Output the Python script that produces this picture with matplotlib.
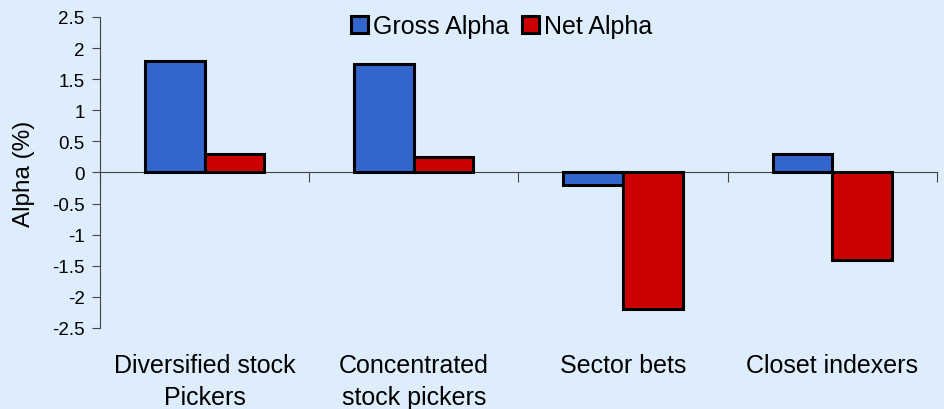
import matplotlib.pyplot as plt
import matplotlib.transforms as mtransforms
import numpy as np

plt.rcParams['font.family'] = ['Liberation Sans', 'DejaVu Sans']

# Daten
categories = ["Diversified stock\nPickers", "Concentrated\nstock pickers",
              "Sector bets", "Closet indexers"]
gross_alpha = [1.8, 1.74, -0.2, 0.3]
net_alpha = [0.3, 0.25, -2.2, -1.4]
y_ticks = [2.5, 2, 1.5, 1, 0.5, 0, -0.5, -1, -1.5, -2, -2.5]
y_tick_labels = ["2.5", "2", "1.5", "1", "0.5", "0", "-0.5", "-1", "-1.5", "-2", "-2.5"]

bg = '#DDEDFC'
blue = '#3366CC'
red = '#CC0000'

fig = plt.figure(figsize=(9.45, 4.1), dpi=100, facecolor=bg)
ax = fig.add_axes([0.1058, 0.1976, 0.8857, 0.7585], facecolor=bg)

x = np.arange(len(categories)) + 0.5
w = 0.285
ax.bar(x - w / 2, gross_alpha, w, color=blue, edgecolor='black', linewidth=2.2,
       label="Gross Alpha", zorder=3)
ax.bar(x + w / 2, net_alpha, w, color=red, edgecolor='black', linewidth=2.2,
       label="Net Alpha", zorder=3)

ax.set_xlim(0, len(categories))
ax.set_ylim(-2.5, 2.5)
ax.set_yticks(y_ticks)
ax.set_yticklabels(y_tick_labels, fontsize=13.5)
ax.set_ylabel("Alpha (%)", fontsize=17.5)
ax.yaxis.set_label_coords(-0.078, 0.5)

for s in ['top', 'right']:
    ax.spines[s].set_visible(False)
ax.spines['bottom'].set_position(('data', 0))
ax.spines['left'].set_color('#444444')
ax.spines['bottom'].set_color('#444444')
ax.tick_params(axis='y', direction='out', length=6, color='#444444', pad=5)
ax.set_xticks(np.arange(len(categories) + 1))
ax.set_xticklabels([])
ax.tick_params(axis='x', direction='out', length=7, color='#444444')

trans = mtransforms.blended_transform_factory(ax.transData, ax.transAxes)
for xi, lab in zip(x, categories):
    ax.text(xi, -0.082, lab, transform=trans, ha='center', va='top',
            fontsize=18, linespacing=1.42)

leg = ax.legend(loc='upper center', bbox_to_anchor=(0.48, 1.065), ncol=2,
                frameon=False, fontsize=18, handlelength=0.7,
                handleheight=0.7, handletextpad=0.2, columnspacing=0.5,
                borderaxespad=0.3)

fig.savefig("out.png", dpi=100, facecolor=bg)
